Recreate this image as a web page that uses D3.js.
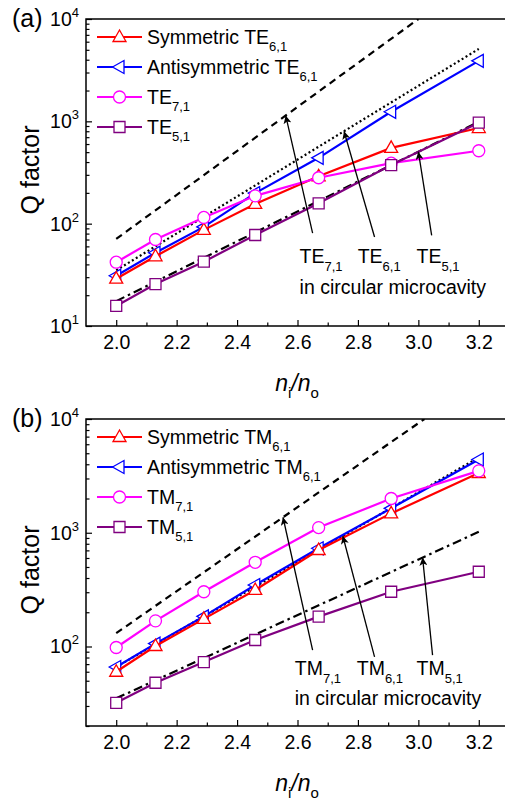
<!DOCTYPE html>
<html>
<head>
<meta charset="utf-8">
<script src="https://cdn.jsdelivr.net/npm/d3@7"></script>
<style>
  body { margin: 0; background: #fff; }
  svg { display: block; }
  text { font-family: "Liberation Sans", Arial, Helvetica, sans-serif; fill: #000; }
</style>
</head>
<body>
<svg id="chart" width="505" height="803"></svg>
<script>
// ---- data -------------------------------------------------------------
const xValues = [2.0, 2.13, 2.29, 2.46, 2.67, 2.91, 3.2];   // n_i / n_o
const xTickValues = [2.0, 2.2, 2.4, 2.6, 2.8, 3.0, 3.2];
const xMinorValues = [2.1, 2.3, 2.5, 2.7, 2.9, 3.1];

// (a) TE modes, Q factor
const teSymmetric61 = [29, 48, 87, 156, 290, 550, 860];
const teAntisymmetric61 = [31, 52, 93, 199, 440, 1240, 3900];
const te71 = [42, 70, 115, 187, 281, 390, 516];
const te51 = [15.7, 25.7, 42.5, 77.5, 158, 374, 970];
// circular microcavity references: [n, Q] end points
const teCircular71 = [[2.0, 71], [3.0, 10000]];
const teCircular61 = [[2.0, 35], [3.2, 5100]];
const teCircular51 = [[2.0, 17.5], [3.2, 990]];

// (b) TM modes, Q factor
const tmSymmetric61 = [60, 101, 175, 314, 705, 1480, 3350];
const tmAntisymmetric61 = [66, 106, 184, 347, 730, 1640, 4400];
const tm71 = [98, 168, 303, 550, 1110, 2000, 3500];
const tm51 = [32, 48, 73, 114, 183, 303, 454];
const tmCircular71 = [[2.0, 131], [3.02, 10000]];
const tmCircular61 = [[2.0, 66], [3.2, 4600]];
const tmCircular51 = [[2.0, 35], [3.2, 1020]];

const yTickExponentsA = [1, 2, 3, 4];
const yTickExponentsB = [2, 3, 4];

// ---- drawing ----------------------------------------------------------
const svg = d3.select('#chart');
const defs = svg.append('defs');
defs.append('marker')
  .attr('id', 'arrowhead')
  .attr('viewBox', '0 0 10 10')
  .attr('refX', 10).attr('refY', 5)
  .attr('markerWidth', 8).attr('markerHeight', 8)
  .attr('markerUnits', 'userSpaceOnUse')
  .attr('orient', 'auto')
  .append('path').attr('d', 'M0,0 L10,5 L0,10 L2.5,5 Z').attr('fill', '#000');

const PLOT_LEFT = 86, PLOT_RIGHT = 509, PLOT_H = 307;
const x = d3.scaleLinear().domain([1.9, 3.3]).range([PLOT_LEFT, PLOT_RIGHT]);

const COLORS = { red: '#ff0000', blue: '#0000ff', magenta: '#ff00ff', purple: '#800080' };
const SYMBOLS = {
  triUp: 'M0,-7L6.5,4.5L-6.5,4.5Z',
  triLeft: 'M-7,0L4.5,-6.5L4.5,6.5Z',
  circle: 'M6,0A6,6 0 1,1 -6,0A6,6 0 1,1 6,0Z',
  square: 'M-5.5,-5.5H5.5V5.5H-5.5Z'
};
const REF_STYLE = { dashed: '7,5', dotted: '2,2.6', dashdot: '9,4,2.5,4' };

function refValueAt(line, n) {
  const [[x0, v0], [x1, v1]] = line;
  const t = (n - x0) / (x1 - x0);
  return Math.pow(10, Math.log10(v0) + t * (Math.log10(v1) - Math.log10(v0)));
}

function subText(sel, main, sub, size, subSize) {
  sel.append('tspan').text(main);
  sel.append('tspan').attr('font-size', subSize).attr('dy', size * 0.38).text(sub);
}

function drawPanel(p) {
  const top = p.top, bottom = top + PLOT_H;
  const y = d3.scaleLog().domain(p.yDomain).range([bottom, top]);
  const g = svg.append('g');
  const clipId = 'clip-' + p.key;
  defs.append('clipPath').attr('id', clipId)
    .append('rect').attr('x', PLOT_LEFT).attr('y', top)
    .attr('width', PLOT_RIGHT - PLOT_LEFT).attr('height', PLOT_H);

  // x ticks (pointing inward)
  const xAxis = g.append('g').attr('transform', `translate(0,${bottom})`)
    .call(d3.axisBottom(x).tickValues(xTickValues).tickSize(-6).tickPadding(9)
      .tickFormat(d3.format('.1f')));
  xAxis.selectAll('text').attr('font-size', 19.5).attr('font-family', null);
  g.append('g').attr('transform', `translate(0,${bottom})`)
    .call(d3.axisBottom(x).tickValues(xMinorValues).tickSize(-3.5).tickFormat(''));

  // y ticks (log, pointing inward)
  const [lo, hi] = p.yDomain;
  const majors = [], minors = [];
  for (let e = 0; e <= 5; e++) {
    for (let m = 1; m <= 9; m++) {
      const v = m * Math.pow(10, e);
      if (v < lo - 1e-9 || v > hi + 1e-9) continue;
      (m === 1 ? majors : minors).push(v);
    }
  }
  g.append('g').attr('transform', `translate(${PLOT_LEFT},0)`)
    .call(d3.axisLeft(y).tickValues(majors).tickSize(-6).tickFormat(''));
  g.append('g').attr('transform', `translate(${PLOT_LEFT},0)`)
    .call(d3.axisLeft(y).tickValues(minors).tickSize(-3.5).tickFormat(''));
  g.selectAll('.domain').remove();
  g.selectAll('.tick line').attr('stroke', '#000').attr('stroke-width', 1.2);

  // y tick labels 10^n
  p.yLabels.forEach(e => {
    const t = g.append('text').attr('x', 79).attr('y', y(Math.pow(10, e)) + 7)
      .attr('text-anchor', 'end').attr('font-size', 19.5);
    t.append('tspan').text('10');
    t.append('tspan').attr('font-size', 13).attr('dy', -9).text(String(e));
  });

  // frame
  g.append('rect').attr('x', PLOT_LEFT).attr('y', top)
    .attr('width', PLOT_RIGHT - PLOT_LEFT).attr('height', PLOT_H)
    .attr('fill', 'none').attr('stroke', '#000').attr('stroke-width', 1.5);

  // circular microcavity reference lines
  const refG = g.append('g').attr('clip-path', `url(#${clipId})`);
  const refLine = d3.line().x(d => x(d[0])).y(d => y(d[1]));
  p.refs.forEach(r => {
    refG.append('path').attr('d', refLine(r.line))
      .attr('fill', 'none').attr('stroke', '#000').attr('stroke-width', 2.2)
      .attr('stroke-dasharray', REF_STYLE[r.style]);
  });

  // series
  const seriesLine = d3.line().x((d, i) => x(xValues[i])).y(d => y(d));
  p.drawOrder.forEach(idx => {
    const s = p.series[idx];
    g.append('path').attr('d', seriesLine(s.values))
      .attr('fill', 'none').attr('stroke', s.color).attr('stroke-width', 2.2);
    g.selectAll(null).data(s.values).join('path')
      .attr('d', SYMBOLS[s.symbol])
      .attr('transform', (d, i) => `translate(${x(xValues[i])},${y(d)})`)
      .attr('fill', '#fff').attr('stroke', s.color).attr('stroke-width', 1.3);
  });

  // legend
  p.series.forEach((s, i) => {
    const cy = top + 18 + i * 30;
    g.append('line').attr('x1', 97).attr('x2', 142).attr('y1', cy).attr('y2', cy)
      .attr('stroke', s.color).attr('stroke-width', 2.2);
    g.append('path').attr('d', SYMBOLS[s.symbol]).attr('transform', `translate(119.5,${cy})`)
      .attr('fill', '#fff').attr('stroke', s.color).attr('stroke-width', 1.3);
    const t = g.append('text').attr('x', 147).attr('y', cy + 7).attr('font-size', 19.5);
    subText(t, s.name, s.sub, 19.5, 13);
  });

  // arrows and labels for the circular microcavity lines
  p.arrows.forEach(a => {
    const ref = p.refs.find(r => r.style === a.ref).line;
    g.append('line')
      .attr('x1', x(a.tail[0])).attr('y1', y(a.tail[1]))
      .attr('x2', x(a.headX)).attr('y2', y(refValueAt(ref, a.headX)))
      .attr('stroke', '#000').attr('stroke-width', 1.3)
      .attr('marker-end', 'url(#arrowhead)');
    const t = g.append('text').attr('x', x(a.labelX)).attr('y', y(p.labelQ)).attr('font-size', 19.5);
    subText(t, p.mode, a.sub, 19.5, 13);
  });
  g.append('text').attr('x', x(p.arrows[0].labelX)).attr('y', y(p.noteQ))
    .attr('font-size', 19.5).text('in circular microcavity');

  // axis titles and panel tag
  g.append('text').attr('transform', `translate(39,${top + 151}) rotate(-90)`)
    .attr('text-anchor', 'middle').attr('font-size', 25).text('Q factor');
  const xt = g.append('text').attr('x', 297).attr('y', top + 372)
    .attr('text-anchor', 'middle').attr('font-size', 23);
  xt.append('tspan').attr('font-style', 'italic').text('n');
  xt.append('tspan').attr('font-size', 15).attr('dy', 7).text('i');
  xt.append('tspan').attr('font-style', 'italic').attr('dy', -7).text('/n');
  xt.append('tspan').attr('font-size', 15).attr('dy', 7).text('o');
  g.append('text').attr('x', 12).attr('y', top + 8).attr('font-size', 25).text(p.tag);
}

const panels = [
  {
    key: 'a', tag: '(a)', mode: 'TE', top: 19, yDomain: [10, 10000], yLabels: yTickExponentsA,
    series: [
      { name: 'Symmetric TE', sub: '6,1', values: teSymmetric61, color: COLORS.red, symbol: 'triUp' },
      { name: 'Antisymmetric TE', sub: '6,1', values: teAntisymmetric61, color: COLORS.blue, symbol: 'triLeft' },
      { name: 'TE', sub: '7,1', values: te71, color: COLORS.magenta, symbol: 'circle' },
      { name: 'TE', sub: '5,1', values: te51, color: COLORS.purple, symbol: 'square' }
    ],
    drawOrder: [1, 0, 2, 3],
    refs: [
      { line: teCircular71, style: 'dashed' },
      { line: teCircular61, style: 'dotted' },
      { line: teCircular51, style: 'dashdot' }
    ],
    arrows: [
      { tail: [2.650, 81], headX: 2.561, ref: 'dashed', sub: '7,1', labelX: 2.607 },
      { tail: [2.855, 74], headX: 2.754, ref: 'dotted', sub: '6,1', labelX: 2.799 },
      { tail: [3.044, 77], headX: 3.0, ref: 'dashdot', sub: '5,1', labelX: 2.994 }
    ],
    labelQ: 41, noteQ: 20.5
  },
  {
    key: 'b', tag: '(b)', mode: 'TM', top: 419, yDomain: [20, 10000], yLabels: yTickExponentsB,
    series: [
      { name: 'Symmetric TM', sub: '6,1', values: tmSymmetric61, color: COLORS.red, symbol: 'triUp' },
      { name: 'Antisymmetric TM', sub: '6,1', values: tmAntisymmetric61, color: COLORS.blue, symbol: 'triLeft' },
      { name: 'TM', sub: '7,1', values: tm71, color: COLORS.magenta, symbol: 'circle' },
      { name: 'TM', sub: '5,1', values: tm51, color: COLORS.purple, symbol: 'square' }
    ],
    drawOrder: [1, 0, 2, 3],
    refs: [
      { line: tmCircular71, style: 'dashed' },
      { line: tmCircular61, style: 'dotted' },
      { line: tmCircular51, style: 'dashdot' }
    ],
    arrows: [
      { tail: [2.650, 93], headX: 2.552, ref: 'dashed', sub: '7,1', labelX: 2.591 },
      { tail: [2.855, 81], headX: 2.75, ref: 'dotted', sub: '6,1', labelX: 2.796 },
      { tail: [3.047, 84], headX: 3.014, ref: 'dashdot', sub: '5,1', labelX: 2.994 }
    ],
    labelQ: 56, noteQ: 30.6
  }
];

panels.forEach(drawPanel);
</script>
</body>
</html>
